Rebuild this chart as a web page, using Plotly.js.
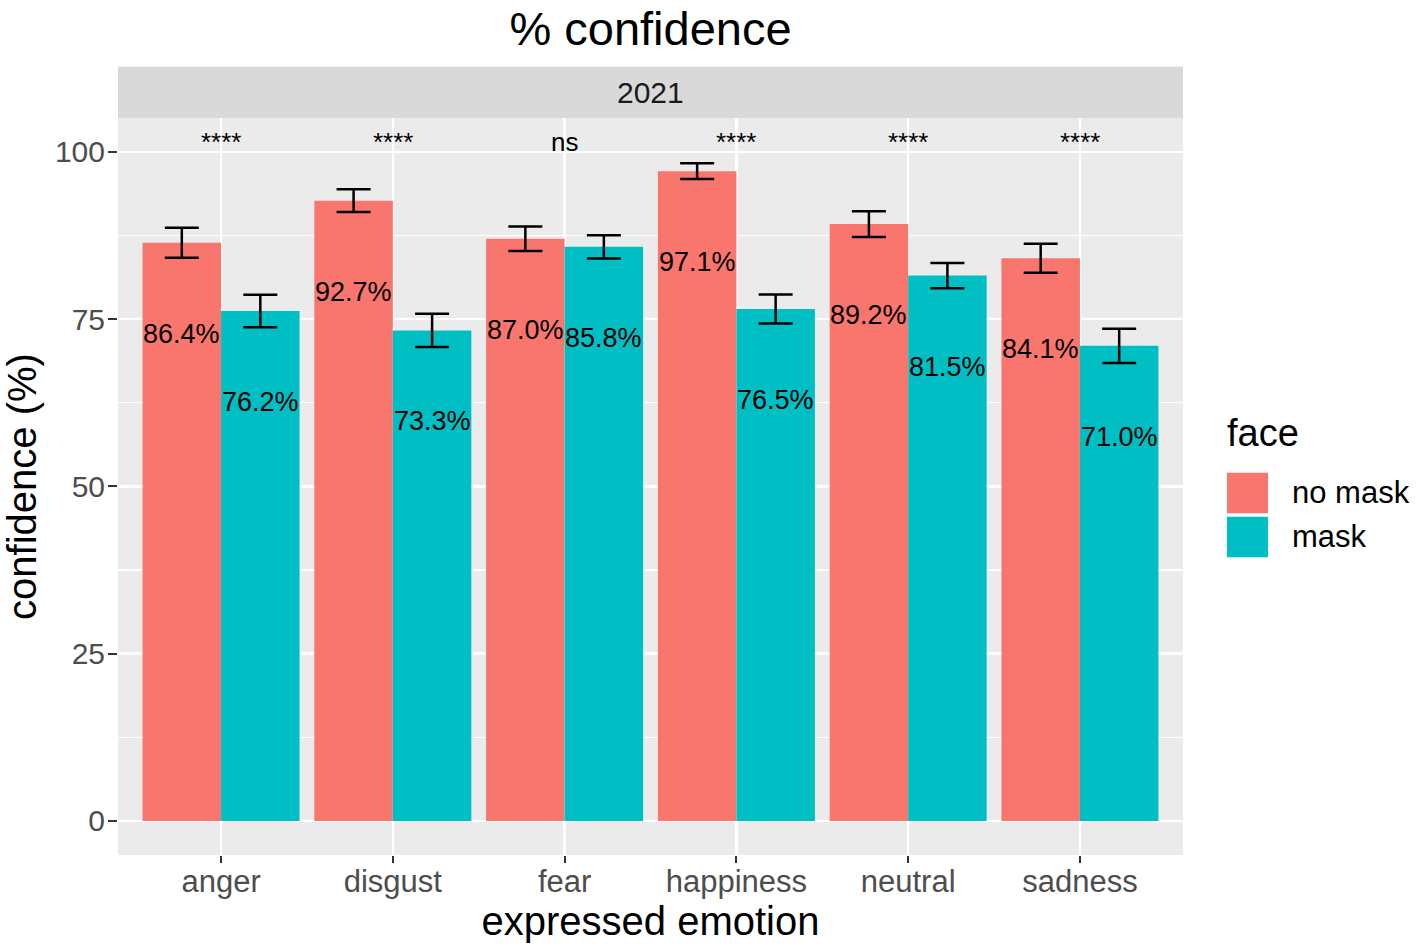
<!DOCTYPE html>
<html>
<head>
<meta charset="utf-8">
<script src="https://cdn.plot.ly/plotly-3.0.1.min.js"></script>
<style>
  body { margin: 0; background: #fff; }
  #chart { width: 1418px; height: 947px; }
</style>
</head>
<body>
<div id="chart"></div>
<script>
// Data
const emotions = ['anger', 'disgust', 'fear', 'happiness', 'neutral', 'sadness'];
const noMask = [86.4, 92.7, 87.0, 97.1, 89.2, 84.1];
const mask = [76.2, 73.3, 85.8, 76.5, 81.5, 71.0];
const noMaskErr = [2.24, 1.69, 1.82, 1.17, 1.92, 2.17];
const maskErr = [2.44, 2.49, 1.74, 2.17, 1.89, 2.57];
const signif = ['****', '****', 'ns', '****', '****', '****'];
const signifY = 100;
const faceLevels = ['no mask', 'mask'];
const faceColors = ['#F8766D', '#00BFC4'];
const facetLabel = '2021';

const FONT = 'Liberation Sans, Arial, sans-serif';
const bargap = 0.086;
const offset = (1 - bargap) / 4;

function barTrace(name, y, err, color) {
  return {
    type: 'bar',
    name: name,
    x: emotions,
    y: y,
    marker: { color: color, line: { width: 0 } },
    error_y: { type: 'data', array: err, visible: true, color: '#000', thickness: 2.5, width: 17 },
    showlegend: false,
    hoverinfo: 'x+y'
  };
}

const traces = [
  barTrace(faceLevels[0], noMask, noMaskErr, faceColors[0]),
  barTrace(faceLevels[1], mask, maskErr, faceColors[1])
];

const annotations = [];
// percentage labels on the bars
[noMask, mask].forEach((vals, s) => {
  vals.forEach((v, i) => {
    annotations.push({
      xref: 'x', yref: 'y',
      x: i + (s === 0 ? -offset : offset), y: v,
      text: v.toFixed(1) + '%',
      showarrow: false,
      yanchor: 'middle', yshift: -91,
      font: { family: FONT, size: 27, color: '#000' }
    });
  });
});
// significance labels
signif.forEach((t, i) => {
  annotations.push({
    xref: 'x', yref: 'y', x: i, y: signifY,
    text: t, showarrow: false,
    yanchor: 'bottom', yshift: -7,
    font: { family: FONT, size: 26, color: '#000' }
  });
});
// facet strip label
annotations.push({
  xref: 'paper', yref: 'paper', x: 0.5, y: 1.0346,
  text: facetLabel, showarrow: false, yanchor: 'middle',
  font: { family: FONT, size: 30, color: '#1A1A1A' }
});

// legend drawn by hand, ggplot style
const shapes = [{
  type: 'rect', xref: 'paper', yref: 'paper',
  x0: 0, x1: 1, y0: 1, y1: 1.0696,
  fillcolor: '#D9D9D9', line: { width: 0 }, layer: 'below'
}];
annotations.push({
  xref: 'paper', yref: 'paper', x: 1.0395, y: 0.5726,
  xanchor: 'left', yanchor: 'middle',
  text: 'face', showarrow: false,
  font: { family: FONT, size: 38, color: '#000' }
});
faceLevels.forEach((lvl, k) => {
  const top = 0.5187 - k * 0.0597;
  shapes.push({
    type: 'rect', xref: 'paper', yref: 'paper',
    x0: 1.0413, x1: 1.0798, y0: top - 0.0551, y1: top,
    fillcolor: faceColors[k], line: { width: 0 }
  });
  annotations.push({
    xref: 'paper', yref: 'paper', x: 1.1005, y: top - 0.0275,
    xanchor: 'left', yanchor: 'middle',
    text: lvl, showarrow: false,
    font: { family: FONT, size: 31, color: '#000' }
  });
});

const layout = {
  width: 1418, height: 947,
  margin: { l: 118, r: 235, t: 118, b: 92, pad: 0 },
  paper_bgcolor: '#FFFFFF',
  plot_bgcolor: '#EBEBEB',
  font: { family: FONT },
  title: {
    text: '% confidence',
    x: 0.5, xref: 'paper', xanchor: 'center',
    y: 0.97, yref: 'container', yanchor: 'middle',
    font: { family: FONT, size: 47, color: '#000' }
  },
  barmode: 'group',
  bargap: bargap,
  bargroupgap: 0,
  xaxis: {
    type: 'category',
    range: [-0.6, 5.6],
    showgrid: true, gridcolor: '#FFFFFF', gridwidth: 2.5,
    zeroline: false,
    ticks: 'outside', ticklen: 7, tickwidth: 2, tickcolor: '#333333',
    ticklabelstandoff: -8,
    tickfont: { family: FONT, size: 31, color: '#4D4D4D' },
    title: { text: 'expressed emotion', standoff: 4, font: { family: FONT, size: 40, color: '#000' } },
    fixedrange: true
  },
  yaxis: {
    range: [-5.1, 105.05],
    tickvals: [0, 25, 50, 75, 100],
    showgrid: true, gridcolor: '#FFFFFF', gridwidth: 2.5,
    minor: { tickvals: [12.5, 37.5, 62.5, 87.5], showgrid: true, gridcolor: '#FFFFFF', gridwidth: 1.2 },
    zeroline: false,
    ticks: 'outside', ticklen: 9, tickwidth: 2, tickcolor: '#333333',
    ticklabelstandoff: -3,
    tickfont: { family: FONT, size: 30, color: '#4D4D4D' },
    title: { text: 'confidence (%)', standoff: 10, font: { family: FONT, size: 40, color: '#000' } },
    fixedrange: true
  },
  shapes: shapes,
  annotations: annotations
};

Plotly.newPlot('chart', traces, layout, { displayModeBar: false, staticPlot: true });
</script>
</body>
</html>
